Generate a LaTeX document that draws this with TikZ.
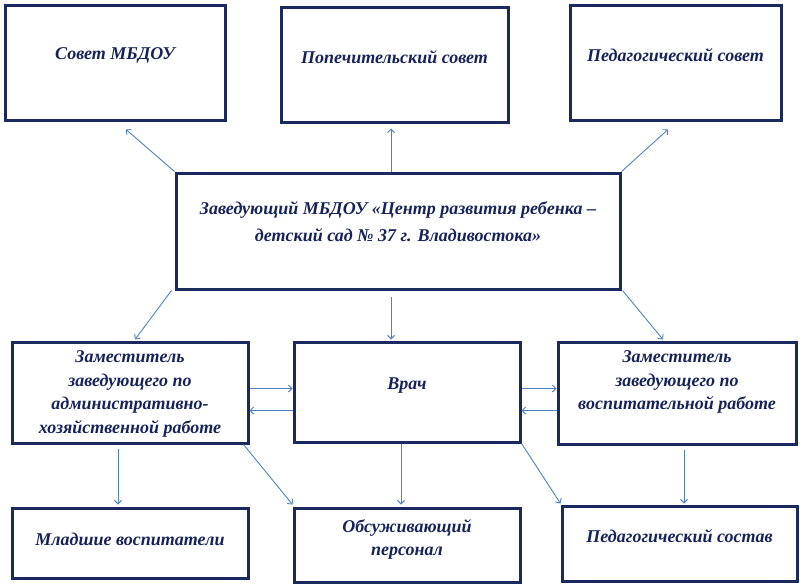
\documentclass[tikz,border=0pt]{standalone}
\usepackage{fontspec}
\setmainfont{Liberation Serif}
\usetikzlibrary{arrows.meta,calc}
\definecolor{navy}{HTML}{1B2A5E}
\definecolor{txt}{HTML}{16235A}
\definecolor{arr}{HTML}{4F81BD}
\begin{document}
\begin{tikzpicture}[x=1pt,y=-1pt,
  box/.style={draw=navy,line width=3pt,inner sep=0pt,minimum width=#1},
  lbl/.style={text=txt,font=\fontsize{18}{24}\selectfont\bfseries\itshape,align=center,inner sep=0pt},
  conn/.style={draw=arr,line width=0.9pt,-{Straight Barb[length=3.5pt,width=7pt]}}]
\useasboundingbox (0,0) rectangle (800,587);
% top row
\node[box=220pt,minimum height=115pt] (b1) at (115,62.5) {};
\node[box=227pt,minimum height=115pt] (b2) at (394.5,64.5) {};
\node[box=211pt,minimum height=115pt] (b3) at (675.5,62.5) {};
% centre
\node[box=444pt,minimum height=116pt] (c) at (398,231) {};
% middle row
\node[box=236pt,minimum height=101pt] (d1) at (130,392.5) {};
\node[box=226pt,minimum height=100pt] (d2) at (407,392) {};
\node[box=238pt,minimum height=102pt] (d3) at (677,393) {};
% bottom row
\node[box=236pt,minimum height=70pt] (e1) at (130,543) {};
\node[box=226pt,minimum height=74pt] (e2) at (407,545) {};
\node[box=235pt,minimum height=75pt] (e3) at (679.5,543.5) {};
% texts
\node[lbl] (t1) at (115,55) {Совет МБДОУ};
\node[lbl] (t2) at (394.5,57) {Попечительский совет};
\node[lbl] (t3) at (675.5,55) {Педагогический совет};
\node[lbl,font=\fontsize{18}{27}\selectfont\bfseries\itshape] (tc) at (398,222) {Заведующий МБДОУ «Центр развития ребенка –\\детский сад № 37 г. Владивостока»};
\node[lbl,font=\fontsize{18}{23.5}\selectfont\bfseries\itshape] (td1) at (130,394) {Заместитель\\заведующего по\\административно-\\хозяйственной работе};
\node[lbl] (td2) at (407,386) {Врач};
\node[lbl,font=\fontsize{18}{23.5}\selectfont\bfseries\itshape] (td3) at (677,382) {Заместитель\\заведующего по\\воспитательной работе};
\node[lbl] (te1) at (130,539) {Младшие воспитатели};
\node[lbl,font=\fontsize{18}{23}\selectfont\bfseries\itshape] (te2) at (407,539) {Обсуживающий\\персонал};
\node[lbl] (te3) at (679.5,536) {Педагогический состав};
% connectors from centre up
\draw[conn] (c.north west) -- ([shift={(11,8)}]b1.south);
\draw[conn] ([shift={(-7,0)}]c.north) -- ([shift={(-7,-43)}]c.north);
\draw[conn] (c.north east) -- ([shift={(-7.5,8)}]b3.south);
% centre down
\draw[conn] ([shift={(-3,0)}]c.south west) -- ([shift={(5,-1)}]d1.north);
\draw[conn] ([shift={(-7,6)}]c.south) -- ([shift={(-16,-1)}]d2.north);
\draw[conn] ([shift={(1,0)}]c.south east) -- ([shift={(-14,-1)}]d3.north);
% horizontal pairs
\draw[conn] ([yshift=4pt]d1.east) -- ([yshift=4pt]d1.east -| d2.west);
\draw[conn] ([yshift=-18pt]d1.east -| d2.west) -- ([yshift=-18pt]d1.east);
\draw[conn] ([yshift=4pt]d1.east -| d2.east) -- ([yshift=4pt]d1.east -| d3.west);
\draw[conn] ([yshift=-18pt]d1.east -| d3.west) -- ([yshift=-18pt]d1.east -| d2.east);
% down to bottom row
\draw[conn] ([shift={(-12,4)}]d1.south) -- ([shift={(-12,-2)}]e1.north);
\draw[conn] ([shift={(-6,0)}]d1.south east) -- ([shift={(0,-2)}]e2.north west);
\draw[conn] ([shift={(-6,0)}]d2.south) -- ([shift={(-6,-2)}]e2.north);
\draw[conn] (d2.south east) -- ([shift={(0,-1)}]e3.north west);
\draw[conn] ([shift={(7,4)}]d3.south) -- ([shift={(4.5,-1)}]e3.north);
\end{tikzpicture}
\end{document}
